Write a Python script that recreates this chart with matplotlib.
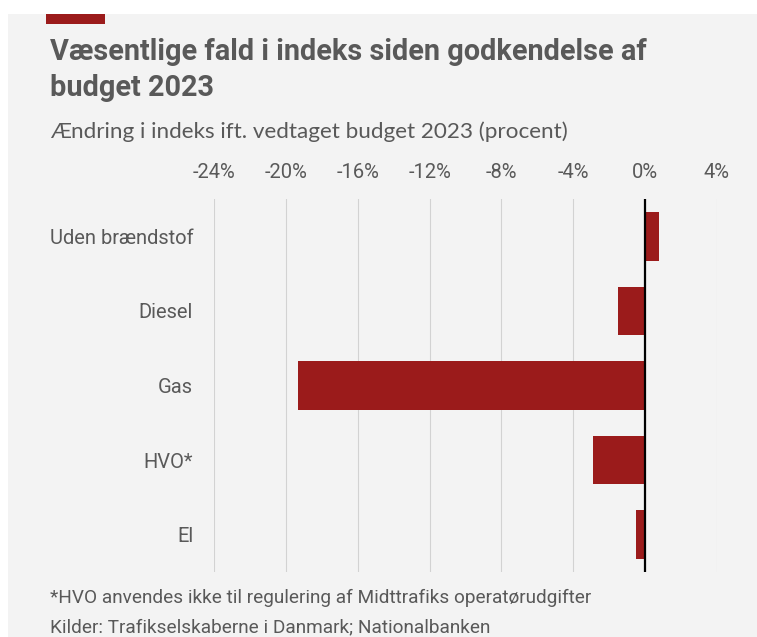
import matplotlib.pyplot as plt
from matplotlib.patches import Rectangle

# Data
categories = ['Uden brændstof', 'Diesel', 'Gas', 'HVO*', 'El']
values = [0.75, -1.5, -19.3, -2.9, -0.5]
ticks = [-24, -20, -16, -12, -8, -4, 0, 4]

W, H = 757, 637
RED = '#9b1b1b'
GREY = '#595959'
COND = ['Roboto', 'DejaVu Sans']

fig = plt.figure(figsize=(W / 100, H / 100), dpi=100)
fig.patch.set_facecolor('white')

# grey panel + red accent
fig.patches.append(Rectangle((8 / W, 0), 1, 1 - 14 / H, transform=fig.transFigure,
                             facecolor='#f3f3f3', edgecolor='none', zorder=-2))
fig.patches.append(Rectangle((46 / W, 1 - 24 / H), 59 / W, 10 / H,
                             transform=fig.transFigure, facecolor=RED,
                             edgecolor='none', zorder=-1))

fig.text(50 / W, 1 - 60 / H, 'Væsentlige fald i indeks siden godkendelse af',
         fontsize=20.8, fontweight='bold', family='Roboto', color=GREY, va='baseline')
fig.text(50 / W, 1 - 96 / H, 'budget 2023',
         fontsize=20.8, fontweight='bold', family='Roboto', color=GREY, va='baseline')
fig.text(50 / W, 1 - 138 / H, 'Ændring i indeks ift. vedtaget budget 2023 (procent)',
         fontsize=16.2, family='Lato', color=GREY, va='baseline')

ax = fig.add_axes([214 / W, 1 - 572 / H, (717 - 214) / W, 373 / H])
ax.set_facecolor('none')
ax.barh(range(len(categories)), values, height=0.65, color=RED, zorder=2)
ax.axvline(0, color='black', lw=1.6, zorder=3)
ax.set_xlim(-24, 4)
ax.set_ylim(len(categories) - 0.5, -0.5)
ax.set_xticks(ticks)
ax.set_xticklabels([f'{t}%' for t in ticks], family=COND, fontsize=14.5, color=GREY)
ax.set_yticks(range(len(categories)))
ax.set_yticklabels(categories, family=COND, fontsize=14.5, color=GREY)
ax.xaxis.tick_top()
ax.tick_params(axis='x', length=0, pad=12)
ax.tick_params(axis='y', length=0, pad=15)
ax.grid(axis='x', color='#d2d2d2', lw=0.8, zorder=1)
ax.set_axisbelow(True)
for s in ax.spines.values():
    s.set_visible(False)

fig.text(50 / W, 1 - 603 / H,
         '*HVO anvendes ikke til regulering af Midttrafiks operatørudgifter',
         fontsize=13.7, family=COND, color=GREY, va='baseline')
fig.text(50 / W, 1 - 632 / H, 'Kilder: Trafikselskaberne i Danmark; Nationalbanken',
         fontsize=13.7, family=COND, color=GREY, va='baseline')

fig.savefig('out.png', dpi=100)
